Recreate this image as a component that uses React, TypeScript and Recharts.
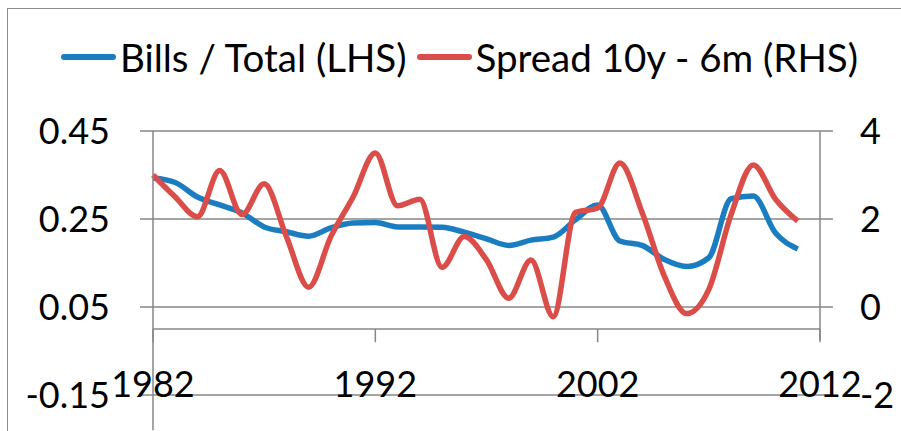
import { LineChart, Line, XAxis, YAxis, CartesianGrid, Legend, ReferenceLine } from 'recharts';

const years = [
  1982, 1983, 1984, 1985, 1986, 1987, 1988, 1989, 1990, 1991,
  1992, 1993, 1994, 1995, 1996, 1997, 1998, 1999, 2000, 2001,
  2002, 2003, 2004, 2005, 2006, 2007, 2008, 2009, 2010, 2011,
];

// Bills / Total (LHS)
const billsShare = [
  0.343, 0.333, 0.3, 0.282, 0.264, 0.232, 0.221, 0.211, 0.23, 0.241,
  0.242, 0.232, 0.232, 0.231, 0.22, 0.205, 0.19, 0.202, 0.209, 0.248,
  0.282, 0.2, 0.19, 0.158, 0.142, 0.162, 0.296, 0.302, 0.218, 0.182,
];

// Spread 10y - 6m (RHS)
const spread = [
  3.0, 2.5, 2.05, 3.1, 2.1, 2.8, 1.6, 0.45, 1.6, 2.5,
  3.5, 2.3, 2.45, 0.9, 1.6, 1.07, 0.2, 1.07, -0.22, 2.15,
  2.25, 3.27, 2.15, 0.7, -0.15, 0.4, 2.1, 3.23, 2.45, 1.95,
];

const xTicks = [1982, 1992, 2002, 2012];
const leftTicks = [-0.15, 0.05, 0.25, 0.45];
const rightTicks = [-2, 0, 2, 4];

const data = years.map((year, i) => ({ year, bills: billsShare[i], spread: spread[i] }));

const BLUE = '#1B7DC1';
const RED = '#DB4D48';
const GRID = '#878787';
const FONT = 'Lato, sans-serif';

const XTick = ({ x, y, payload }: any) => (
  <text x={x} y={y + 2} textAnchor="middle" fill="#000" fontSize={36} fontFamily={FONT}>
    {payload.value}
  </text>
);

const legendItems = [
  { name: 'Bills / Total (LHS)', color: BLUE },
  { name: 'Spread 10y - 6m (RHS)', color: RED },
];

const LegendContent = () => (
  <div
    style={{
      display: 'flex',
      justifyContent: 'center',
      alignItems: 'center',
      fontFamily: FONT,
      fontSize: 38.5,
      color: '#000',
      height: 100,
    }}
  >
    {legendItems.map((item, i) => (
      <div key={item.name} style={{ display: 'flex', alignItems: 'center', marginLeft: i ? 10 : 0 }}>
        <span style={{ width: 55, height: 6, borderRadius: 3, background: item.color, display: 'inline-block' }} />
        <span style={{ marginLeft: 4 }}>{item.name}</span>
      </div>
    ))}
  </div>
);

export default function App() {
  return (
    <div style={{ position: 'absolute', left: 7, top: 8, border: '1px solid #8c8c8c', width: 893, height: 422 }}>
      <LineChart
        width={893}
        height={422}
        data={data}
        margin={{ top: 122, right: 0, left: 0, bottom: 0 }}
        style={{ fontFamily: FONT }}
      >
        <CartesianGrid vertical={false} stroke={GRID} strokeWidth={1.5} yAxisId="left" />
        <XAxis
          dataKey="year"
          type="number"
          domain={[1982, 2012]}
          ticks={xTicks}
          axisLine={false}
          tickLine={false}
          tickSize={0}
          tickMargin={0}
          height={36}
          tick={<XTick />}
          interval={0}
        />
        <YAxis
          yAxisId="left"
          orientation="left"
          domain={[-0.15, 0.45]}
          ticks={leftTicks}
          width={145}
          stroke={GRID}
          axisLine={{ stroke: GRID, strokeWidth: 1.5 }}
          tickLine={{ stroke: GRID, strokeWidth: 1.5 }}
          tickSize={13}
          tickMargin={30}
          tick={{ fill: '#000', fontSize: 36, fontFamily: FONT }}
          tickFormatter={(v: number) => v.toFixed(2)}
          interval={0}
        />
        <YAxis
          yAxisId="right"
          orientation="right"
          domain={[-2, 4]}
          ticks={rightTicks}
          width={81}
          axisLine={false}
          tickLine={{ stroke: GRID, strokeWidth: 1.5 }}
          tickSize={13}
          tickMargin={27}
          tick={{ fill: '#000', fontSize: 36, fontFamily: FONT }}
          interval={0}
        />
        <ReferenceLine yAxisId="left" y={0} stroke={GRID} strokeWidth={1.5} />
        <ReferenceLine
          yAxisId="right"
          stroke={GRID}
          strokeWidth={1.5}
          segment={[{ x: 2012, y: 4 }, { x: 2012, y: -0.75 }]}
        />
        <ReferenceLine
          yAxisId="left"
          stroke={GRID}
          strokeWidth={1.5}
          ifOverflow="visible"
          segment={[{ x: 1982, y: -0.15 }, { x: 1982, y: -0.23 }]}
        />
        {xTicks.map((t) => (
          <ReferenceLine
            key={t}
            yAxisId="left"
            stroke={GRID}
            strokeWidth={1.5}
            segment={[{ x: t, y: 0 }, { x: t, y: -0.03 }]}
          />
        ))}
        <Legend
          verticalAlign="middle"
          align="center"
          layout="horizontal"
          wrapperStyle={{ top: -2, left: 5, width: 893 }}
          content={<LegendContent />}
        />
        <Line
          yAxisId="left"
          dataKey="bills"
          type="monotone"
          stroke={BLUE}
          strokeWidth={5.5}
          dot={false}
          isAnimationActive={false}
        />
        <Line
          yAxisId="right"
          dataKey="spread"
          type="monotone"
          stroke={RED}
          strokeWidth={5.5}
          dot={false}
          isAnimationActive={false}
        />
      </LineChart>
    </div>
  );
}
